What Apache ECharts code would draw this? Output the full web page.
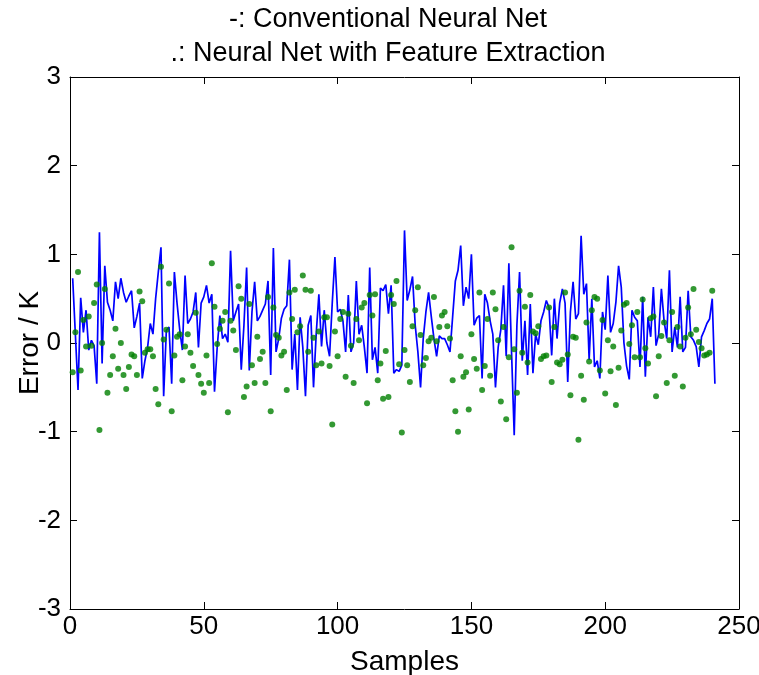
<!DOCTYPE html>
<html>
<head>
<meta charset="utf-8">
<script src="https://cdn.jsdelivr.net/npm/echarts@6/dist/echarts.min.js"></script>
<style>
  html, body { margin: 0; padding: 0; background: #fff; }
  #chart { width: 759px; height: 675px; }
</style>
</head>
<body>
<div id="chart"></div>
<script>
// conventional neural net error per sample (x = 1..N)
const conventionalError = [
  0.73, 0.10, -0.53, 0.51, 0.12, 0.37, -0.08, 0.03, -0.03, -0.46, 1.25, -0.23, 0.87, 0.46, 0.37, 0.25, 0.69, 0.50, 0.73, 0.57, 0.46, 0.53,
  0.59, 0.17, 0.30, 0.45, -0.40, -0.20, -0.05, 0.22, 0.10, 0.50, 0.80, 1.08, -0.60, 0.14, 0.18, -0.46, 0.80, 0.45, 0.15, -0.08, 0.76, 0.22,
  0.27, 0.35, 0.57, -0.05, 0.45, 0.52, 0.65, 0.45, 0.55, -0.55, -0.05, 0.31, 0.05, 0.10, 0.01, 1.04, 0.25, 0.35, 0.44, -0.30, 0.20, 0.85,
  -0.31, 0.35, 0.69, 0.25, 0.30, 0.37, 0.44, 0.70, -0.36, 1.07, -0.10, 0.05, 0.28, 0.38, 0.42, 0.94, -0.30, 0.10, -0.53, 0.29, -0.05, -0.60, 0.20,
  0.31, -0.50, 0.10, 0.55, -0.04, 0.37, 0.00, -0.15, 0.45, 0.97, 0.35, 0.38, 0.25, -0.10, 0.54, -0.10, 0.00, 0.70, 0.10, 0.20, -0.05, -0.34, 0.85,
  -0.19, -0.05, -0.34, 0.62, 0.59, 0.66, 0.33, 0.65, -0.34, -0.30, -0.32, -0.25, 1.27, 0.48, 0.60, 0.75, 0.20, -0.10, -0.50, 0.05, 0.35, 0.57,
  0.30, 0.05, -0.15, 0.08, 0.05, 0.05, -0.02, -0.10, 0.30, 0.70, 0.82, 1.10, 0.42, 0.63, 0.50, 1.00, 0.20, 0.28, 0.31, -0.40, 0.55, 0.45,
  0.25, 0.10, -0.50, -0.05, 0.15, 0.65, -0.15, 0.90, -0.10, -1.04, 0.20, 0.80, -0.20, 0.25, -0.36, 0.44, -0.34, 0.10, -0.02, 0.25, 0.35, 0.48,
  0.40, -0.14, 0.50, 0.05, 0.45, 0.61, 0.45, -0.44, 0.35, 0.69, 0.27, 0.33, 1.21, 0.55, 0.67, -0.19, 0.50, -0.27, -0.20, -0.40, 0.35, 0.15, 0.76,
  0.12, 0.22, 0.46, 0.87, 0.63, 0.00, -0.26, -0.41, 0.37, 0.29, 0.25, -0.27, 0.52, -0.38, 0.29, 0.07, 0.63, -0.03, 0.10, 0.61, 0.25, 0.05, 0.82,
  -0.10, 0.18, -0.05, 0.52, -0.10, -0.05, 0.59, 0.07, 0.03, -0.04, -0.27, 0.07, 0.14, 0.22, 0.27, 0.50, -0.46
]

// neural net with feature extraction, error per sample
const featureError = [
  -0.33, 0.12, 0.80, -0.31, 0.26, -0.04, 0.30, -0.03, 0.45, 0.66, -0.98, 0.00, 0.61, -0.56, -0.36, -0.15, 0.16, -0.29, 0.00, -0.36, -0.52, -0.27,
  -0.13, -0.15, -0.36, 0.58, 0.47, -0.11, -0.07, -0.07, -0.15, -0.52, -0.69, 0.86, 0.04, 0.15, 0.67, -0.77, -0.14, 0.07, 0.10, -0.42, -0.04,
  0.10, -0.11, -0.26, 0.34, -0.36, -0.46, -0.56, -0.14, -0.45, 0.90, 0.41, -0.01, 0.16, 0.25, 0.35, -0.78, 0.25, 0.14, -0.08, 0.64, 0.50, -0.61,
  -0.49, 0.44, -0.25, -0.45, 0.07, -0.18, -0.10, -0.45, 0.52, -0.77, 0.40, 0.09, 0.06, -0.14, -0.10, -0.53, 0.57, 0.27, 0.60, 0.12, 0.19, 0.76, 0.60,
  -0.10, 0.59, 0.06, -0.25, 0.13, -0.23, 0.29, 0.29, -0.26, -0.92, 0.13, -0.15, 0.27, 0.35, -0.38, 0.33, -0.03, -0.45, 0.27, 0.03, 0.40, 0.45, -0.68,
  0.54, 0.31, 0.55, -0.42, -0.23, -0.63, -0.09, -0.61, 0.54, 0.44, 0.70, -0.24, -1.01, -0.08, -0.25, -0.44, 0.19, 0.37, 0.63, 0.09, -0.25, -0.17,
  0.02, 0.06, 0.52, 0.02, 0.18, 0.31, 0.35, 0.19, 0.05, -0.42, -0.77, -1.00, -0.15, -0.38, -0.33, -0.75, 0.10, -0.18, -0.29, 0.57, -0.53, -0.26,
  0.27, -0.37, 0.57, 0.38, 0.03, -0.66, 0.18, -0.86, -0.16, 1.08, -0.07, -0.56, 0.59, -0.11, 0.41, -0.22, 0.54, 0.13, 0.11, 0.19, -0.18, -0.15,
  -0.14, 0.40, -0.44, 0.18, -0.22, -0.24, -0.19, 0.57, -0.13, -0.59, 0.07, 0.06, -1.09, -0.37, -0.64, 0.23, -0.21, 0.37, 0.52, 0.50, -0.31, 0.26, -0.57,
  0.03, -0.32, -0.04, -0.70, -0.28, 0.14, 0.43, 0.45, -0.01, 0.20, -0.16, 0.35, -0.16, 0.49, -0.06, -0.23, 0.28, 0.30, -0.60, -0.15, 0.08, 0.23, -0.45,
  0.03, 0.35, -0.37, 0.18, -0.04, -0.49, 0.06, 0.40, 0.10, 0.61, 0.15, 0.01, -0.06, -0.14, -0.13, -0.11, 0.59
]

const titleLines = ['-: Conventional Neural Net', '.: Neural Net with Feature Extraction']
const xRange = [0, 250, 50]
const yRange = [-3, 3, 1]

const font = 'Arial, "Liberation Sans", sans-serif'

const chart = echarts.init(document.getElementById('chart'))

// box style axes: labelled bottom/left, bare mirrors top/right
function makeAxis(range, labelled, position) {
  return {
    type: 'value',
    position: position,
    min: range[0],
    max: range[1],
    interval: range[2],
    nameMoveOverlap: false,
    axisLine: { show: true, onZero: false, lineStyle: { color: '#000', width: 1 } },
    axisTick: { show: true, inside: true, length: 7, lineStyle: { color: '#000' } },
    axisLabel: { show: labelled, color: '#000', fontSize: 26, fontFamily: font, margin: 5 },
    splitLine: { show: false }
  }
}

const xMain = makeAxis(xRange, true, 'bottom')
xMain.name = 'Samples'
xMain.nameLocation = 'middle'
xMain.nameGap = 39
xMain.nameTextStyle = { color: '#000', fontSize: 28, fontFamily: font }

const yMain = makeAxis(yRange, true, 'left')
yMain.axisLabel.margin = 9
yMain.name = 'Error / K'
yMain.nameLocation = 'middle'
yMain.nameGap = 26
yMain.nameTextStyle = { color: '#000', fontSize: 28, fontFamily: font }

const option = {
  animation: false,
  backgroundColor: '#fff',
  title: titleLines.map((t, i) => ({
    text: t,
    left: 388,
    top: 6 + i * 34,
    padding: 0,
    textAlign: 'center',
    textStyle: { color: '#000', fontSize: 27, fontWeight: 'normal', fontFamily: font }
  })),
  grid: { left: 70, right: 20, top: 77, bottom: 66, containLabel: false, outerBoundsMode: 'none' },
  xAxis: [xMain, makeAxis(xRange, false, 'top')],
  yAxis: [yMain, makeAxis(yRange, false, 'right')],
  series: [
    {
      type: 'line',
      data: conventionalError.map((v, i) => [i + 1, v]),
      showSymbol: false,
      lineStyle: { color: '#0000ff', width: 1.7 },
      z: 2
    },
    {
      type: 'scatter',
      data: featureError.map((v, i) => [i + 1, v]),
      symbolSize: 6,
      itemStyle: { color: '#007f00' },
      z: 3
    }
  ]
}

chart.setOption(option)
</script>
</body>
</html>
